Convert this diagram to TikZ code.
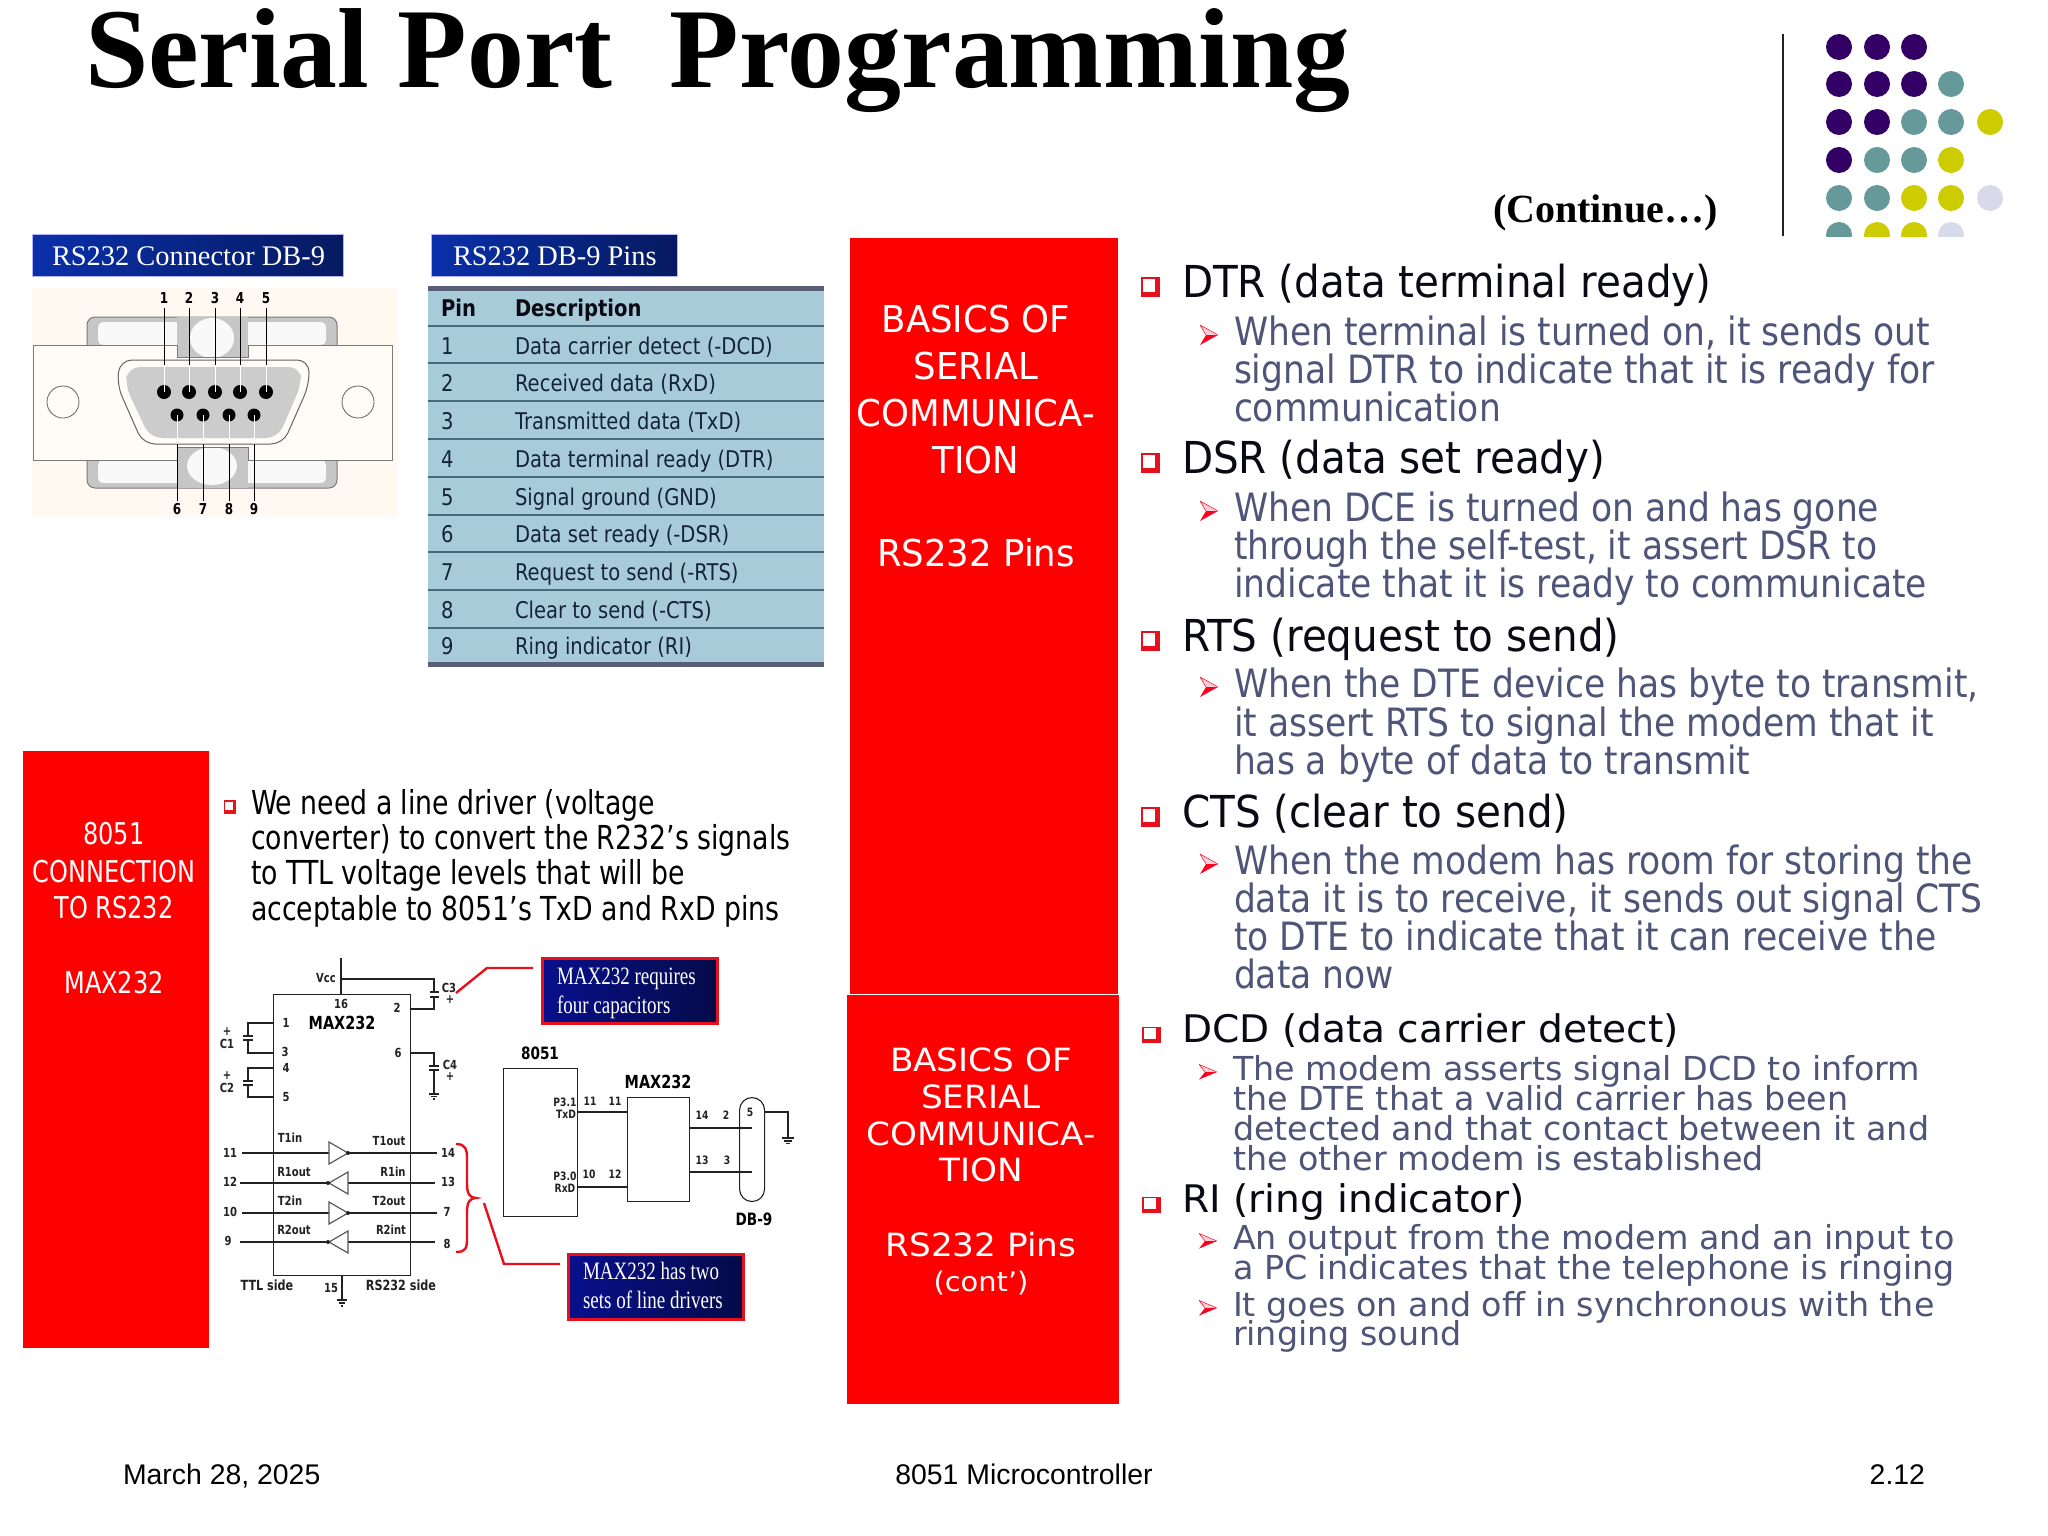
\documentclass[tikz,border=0pt]{standalone}
\usepackage{fontspec}
\setmainfont{Liberation Serif}
\newfontfamily\ar{Liberation Sans}
\newfontfamily\serc[FakeStretch=.76]{Liberation Serif}
\newfontfamily\tah[FakeStretch=.92]{DejaVu Sans}
\newfontfamily\tsub[FakeStretch=.885]{DejaVu Sans}
\newfontfamily\tabf[FakeStretch=.85]{DejaVu Sans}
\newfontfamily\tred[FakeStretch=.96]{DejaVu Sans}
\newfontfamily\tredw[FakeStretch=1.07]{DejaVu Sans}
\newfontfamily\tdcd[FakeStretch=1.01]{DejaVu Sans}
\newfontfamily\tdh[FakeStretch=1.03]{DejaVu Sans}
\newfontfamily\tahc[FakeStretch=.80]{DejaVu Sans}
\newfontfamily\tleft[FakeStretch=.81]{DejaVu Sans}
\usetikzlibrary{calc,shadings}
\newcommand{\fsz}[1]{\fontsize{#1}{#1}\selectfont}
\definecolor{redp}{HTML}{FF0000}
\definecolor{lnred}{HTML}{E8101C}
\definecolor{chevr}{HTML}{FF0022}
\definecolor{chevp}{HTML}{FFD0D8}
\definecolor{hdr}{HTML}{0A0A14}
\definecolor{subt}{HTML}{4F5578}
\definecolor{tbtxt}{HTML}{14233A}
\definecolor{tblue}{HTML}{A8CBDA}
\definecolor{tbar}{HTML}{5A5F78}
\definecolor{tline}{HTML}{476A7C}
\definecolor{dpurple}{HTML}{330066}
\definecolor{dteal}{HTML}{669999}
\definecolor{dyel}{HTML}{CCCC00}
\definecolor{dlav}{HTML}{D9D9EC}
\definecolor{ink}{HTML}{222222}
\definecolor{bana}{HTML}{0A30AA}
\definecolor{banb}{HTML}{061A60}
\definecolor{cala}{HTML}{08108C}
\definecolor{calb}{HTML}{050A48}
\tikzset{
  tl/.style={anchor=base west,inner sep=0pt,outer sep=0pt},
  tc/.style={anchor=base,inner sep=0pt,outer sep=0pt},
  tr/.style={anchor=base east,inner sep=0pt,outer sep=0pt},
  lab/.style={anchor=center,inner sep=0pt,outer sep=0pt,text=ink,font=\tahc\bfseries\fsz{12.5}},
  labb/.style={anchor=center,inner sep=0pt,outer sep=0pt,text=ink,font=\tahc\bfseries\fsz{14}},
  labbb/.style={anchor=center,inner sep=0pt,outer sep=0pt,text=black,font=\tahc\bfseries\fsz{18}},
  pan/.style={fill=redp,draw=none,anchor=north west,inner sep=0pt},
  banner/.style={anchor=north west,inner sep=0pt,draw=white!70!blue,line width=.6pt,left color=bana,right color=banb},
  callout/.style={anchor=north west,inner sep=0pt,draw=lnred,line width=3pt,left color=cala,right color=calb},
  wh/.style={text=white},
  sch/.style={draw=ink,line width=1.1pt},
  chip/.style={draw=ink,line width=1.1pt,fill=none,anchor=north west,inner sep=0pt},
  red line/.style={draw=lnred,line width=2.4pt},
  chev/.pic={\fill[chevp] (-9,-10) -- (9,0) -- (-3,0) -- cycle;
             \draw[chevr,line width=.5pt] (-9,-10) -- (9,0) (-9,-10) -- (-3,0);
             \fill[chevr] (-9,10) -- (9,0) -- (-3,0) -- cycle;},
  sq/.pic={\fill[lnred] (-9.5,-10) rectangle (9.5,10);
           \fill[white] (-7.5,-8) rectangle (5,5);},
}
\begin{document}
\begin{tikzpicture}[x=1pt,y=-1pt]
\useasboundingbox (0,0) rectangle (2048,1536);
\fill[white] (0,0) rectangle (2048,1536);
% title
\node[tl,font=\bfseries\fsz{113.8}] (title) at (85,88) {Serial Port\ \ Programming};
\node[tl,font=\bfseries\fsz{40}] (cont) at (1493,222) {(Continue…)};
% decor
\draw[line width=2.2pt,ink] (1783,34) -- (1783,236);
\begin{scope}
\clip (1820,20) rectangle (2020,236);
\foreach \x/\y/\c in {1839/47/dpurple,1877/47/dpurple,1914/47/dpurple,
 1839/84/dpurple,1877/84/dpurple,1914/84/dpurple,1951/84/dteal,
 1839/122/dpurple,1877/122/dpurple,1914/122/dteal,1951/122/dteal,1990/122/dyel,
 1839/160/dpurple,1877/160/dteal,1914/160/dteal,1951/160/dyel,
 1839/198/dteal,1877/198/dteal,1914/198/dyel,1951/198/dyel,1990/198/dlav,
 1839/235/dteal,1877/235/dyel,1914/235/dyel,1951/235/dlav}
 \fill[\c] (\x,\y) circle[radius=13];
\end{scope}
% red panels
\node[pan,minimum width=268pt,minimum height=756pt] (pan1) at (850,238) {};
\node[pan,minimum width=272pt,minimum height=409pt] (pan2) at (847,995) {};
\node[pan,minimum width=186pt,minimum height=597pt] (pan3) at (23,751) {};
\foreach \n/\y/\t in {a/332/BASICS OF,b/379/SERIAL,c/426/COMMUNICA-,d/473/TION,e/566/RS232 Pins}
  \node[tc,wh,font=\tred\fsz{37}] (pa\n) at (976,\y) {\t};
\foreach \n/\y/\t in {a/1071/BASICS OF,b/1108/SERIAL,c/1145/COMMUNICA-,d/1181/TION,e/1256/RS232 Pins}
  \node[tc,wh,font=\tredw\fsz{32}] (pb\n) at (981,\y) {\t};
\node[tc,wh,font=\tredw\fsz{27}] (pbf) at (981,1291) {(cont’)};
\foreach \n/\y/\t in {a/844/8051,b/882/CONNECTION,c/918/TO RS232,d/993/MAX232}
  \node[tc,wh,font=\tahc\fsz{30}] (pc\n) at (114,\y) {\t};
% banners
\node[banner,minimum width=311pt,minimum height=42pt] (ban1) at (32,234) {};
\node[tl,text=white,font=\fsz{28.4}] (ban1t) at (52,265) {RS232 Connector DB-9};
\node[banner,minimum width=246pt,minimum height=42pt] (ban2) at (431,234) {};
\node[tl,text=white,font=\fsz{28.4}] (ban2t) at (453,265) {RS232 DB-9 Pins};
% connector picture
\fill[orange!5!white] (32,288) rectangle (398,517);
\draw[ink!60,fill=gray!45,rounded corners=8pt,line width=1pt] (87,345) -- (87,317) -- (337,317) -- (337,345);
\fill[white!95!gray,rounded corners=5pt] (98,322) rectangle (326,345);
\draw[ink!60,fill=gray!45,rounded corners=8pt,line width=1pt] (87,460) -- (87,488) -- (337,488) -- (337,460);
\fill[white!95!gray,rounded corners=5pt] (98,460) rectangle (326,483);
\fill[gray!45] (177,317) rectangle (248,357);
\fill[white!95!gray] (212,338) ellipse[x radius=22,y radius=20];
\fill[gray!45] (177,447) rectangle (248,488);
\fill[white!95!gray] (212,466) ellipse[x radius=25,y radius=19];
\draw[ink!60,line width=1pt,fill=orange!3!white] (33,345) -- (177,345) -- (177,357) -- (248,357) -- (248,345) -- (392,345) -- (392,460) -- (248,460) -- (248,447) -- (177,447) -- (177,460) -- (33,460) -- cycle;
\draw[ink!70,line width=1pt,fill=orange!3!white,rounded corners=12pt] (117,385) -- (120,360) -- (309,360) -- (309,385) -- (283,444) -- (143,444) -- cycle;
\fill[gray!40,rounded corners=12pt] (125,385) -- (128,367) -- (301,367) -- (301,385) -- (278,438) -- (150,438) -- cycle;
\draw[ink!70,line width=.8pt] (63,402) circle[radius=16];
\draw[ink!70,line width=.8pt] (358,402) circle[radius=16];
\foreach \n/\x in {1/164,2/189,3/215,4/240,5/266}{
  \fill[black] (\x,392) circle[radius=7];
  \draw[black,line width=1pt] (\x,308) -- (\x,365);
  \draw[white,line width=1pt] (\x,365) -- (\x,392);
  \node[lab,text=black,font=\tahc\bfseries\fsz{15}] (top\n) at (\x,298) {\n};
}
\foreach \n/\x in {6/177,7/203,8/229,9/254}{
  \fill[black] (\x,415) circle[radius=6.5];
  \draw[white,line width=1pt] (\x,415) -- (\x,444);
  \draw[black,line width=1pt] (\x,444) -- (\x,501);
  \node[lab,text=black,font=\tahc\bfseries\fsz{15}] (bot\n) at (\x,509) {\n};
}
% table
\fill[tblue] (428,286) rectangle (824,666);
\fill[tbar] (428,286) rectangle (824,291);
\fill[tbar] (428,662) rectangle (824,667);
\foreach \y in {326,363,401,439,477,515,552,590,628}
  \draw[tline,line width=1.2pt] (428,\y) -- (824,\y);
\node[tl,font=\tabf\bfseries\fsz{23},text=hdr] (thp) at (441,316) {Pin};
\node[tl,font=\tabf\bfseries\fsz{23},text=hdr] (thd) at (515,316) {Description};
\foreach \i/\y/\t in {1/354/Data carrier detect (-DCD),2/391/Received data (RxD),3/429/Transmitted data (TxD),4/467/Data terminal ready (DTR),5/505/Signal ground (GND),6/542/Data set ready (-DSR),7/580/Request to send (-RTS),8/618/Clear to send (-CTS),9/654/Ring indicator (RI)}{
  \node[tl,font=\tabf\fsz{23},text=tbtxt] (tp\i) at (441,\y) {\i};
  \node[tl,font=\tabf\fsz{23},text=tbtxt] (td\i) at (515,\y) {\t};
}
% left text
\pic[scale=.68] (lb) at (230,807) {sq};
\foreach \n/\y/\t in {a/814/We need a line driver (voltage,b/849/converter) to convert the R232’s signals,c/884/to TTL voltage levels that will be,d/920/acceptable to 8051’s TxD and RxD pins}
  \node[tl,font=\tleft\fsz{33},text=black] (lt\n) at (251,\y) {\t};
% schematic 1
\node[chip,minimum width=137pt,minimum height=281pt] (mx) at (273,994) {};
\draw[sch] (341,958) -- (341,994);
\draw[sch] (341,979) -- (434,979) -- (434,992);
\draw[sch] (430,992) -- (439,992) (430,997) -- (439,997);
\draw[sch] (434,997) -- (434,1009) -- (410,1009);
\draw[sch] (273,1023) -- (248,1023) -- (248,1036) (243,1036) -- (253,1036) (243,1040) -- (253,1040) (248,1040) -- (248,1053) -- (273,1053);
\draw[sch] (273,1068) -- (248,1068) -- (248,1081) (243,1081) -- (253,1081) (243,1085) -- (253,1085) (248,1085) -- (248,1097) -- (273,1097);
\draw[sch] (410,1053) -- (434,1053) -- (434,1066) (429,1066) -- (439,1066) (429,1070) -- (439,1070) (434,1070) -- (434,1093);
\draw[sch] (429,1094) -- (439,1094) (431,1096.5) -- (437,1096.5) (433,1099) -- (435,1099);
\draw[sch] (342,1275) -- (342,1300);
\draw[sch] (337,1300) -- (347,1300) (339,1303) -- (345,1303) (341,1306) -- (343,1306);
\foreach \n/\y in {a/1153,c/1213}{
  \draw[sch] (242,\y) -- (329,\y) (348,\y) -- (437,\y);
  \draw[draw=gray!70!black,line width=1.2pt] (329,\y-11) -- (348,\y) -- (329,\y+11) -- cycle;
  \fill[ink] (348,\y) circle[radius=2];
}
\foreach \n/\y in {b/1183,d/1242}{
  \draw[sch] (240,\y) -- (328,\y) (348,\y) -- (435,\y);
  \draw[draw=gray!70!black,line width=1.2pt] (348,\y-11) -- (329,\y) -- (348,\y+11) -- cycle;
  \fill[ink] (328,\y) circle[radius=2];
}
\foreach \n/\x/\y/\t in {a/326/978/Vcc,b/449/988/C3,c/450/1000/+,d/341/1004/16,e/397/1008/2,f/286/1023/1,g/285/1052/3,h/286/1068/4,i/286/1097/5,j/398/1053/6,k/227/1032/+,l/227/1044/C1,m/227/1076/+,n/227/1088/C2,o/450/1065/C4,p/450/1077/+,q/230/1153/11,r/448/1153/14,s/230/1182/12,t/448/1182/13,u/230/1212/10,v/447/1212/7,w/228/1241/9,x/447/1244/8,y/331/1288/15}
  \node[lab] (sl\n) at (\x,\y) {\t};
\foreach \n/\x/\y/\t in {a/290/1138/T1in,b/294/1172/R1out,c/290/1201/T2in,d/294/1230/R2out,e/389/1141/T1out,f/393/1172/R1in,g/389/1201/T2out,h/391/1230/R2int}
  \node[lab] (sd\n) at (\x,\y) {\t};
\node[labb] (sttl) at (267,1285) {TTL side};
\node[labb] (srs) at (401,1285) {RS232 side};
\node[labbb] (smx) at (342,1023) {MAX232};
% red brace and callouts
\node[callout,minimum width=175pt,minimum height=65pt] (cal1) at (541,957) {};
\node[tl,text=white,font=\serc\fsz{25}] (cal1a) at (557,984) {MAX232 requires};
\node[tl,text=white,font=\serc\fsz{25}] (cal1b) at (557,1013) {four capacitors};
\node[callout,minimum width=175pt,minimum height=65pt] (cal2) at (567,1253) {};
\node[tl,text=white,font=\serc\fsz{25}] (cal2a) at (583,1279) {MAX232 has two};
\node[tl,text=white,font=\serc\fsz{25}] (cal2b) at (583,1308) {sets of line drivers};
\coordinate (c3tip) at (456,993);
\coordinate (bracetip) at (484,1203);
\draw[red line] (c3tip) -- (487,968) -- (533,968);
\draw[red line] (bracetip) -- (504,1264) -- (560,1264);
\draw[red line] (456,1144) .. controls (466,1144) and (467,1150) .. (467,1158) -- (467,1184) .. controls (467,1194) and (470,1198) .. (476,1198) .. controls (470,1198) and (467,1202) .. (467,1212) -- (467,1238) .. controls (467,1248) and (466,1252) .. (456,1252);
% schematic 2
\node[chip,minimum width=74pt,minimum height=148pt] (b8051) at (503,1068) {};
\node[chip,minimum width=62pt,minimum height=104pt] (bmx) at (627,1097) {};
\node[chip,rounded corners=12.5pt,minimum width=25pt,minimum height=104pt] (bdb) at (739,1097) {};
\node[labbb,font=\tahc\bfseries\fsz{17}] (l8051) at (540,1053) {8051};
\node[labbb] (lmx) at (658,1082) {MAX232};
\node[labbb,font=\tahc\bfseries\fsz{17}] (ldb) at (754,1219) {DB-9};
\coordinate (gnd2) at (788,1138);
\draw[sch] (b8051.east |- 0,1112) -- (bmx.west |- 0,1112);
\draw[sch] (b8051.east |- 0,1187) -- (bmx.west |- 0,1187);
\draw[sch] (bmx.east |- 0,1128) -- (752,1128);
\draw[sch] (bmx.east |- 0,1172) -- (752,1172);
\draw[sch] (bdb.east |- 0,1112) -- (788,1112) -- (gnd2);
\draw[sch] (782,1138) -- (794,1138) (784,1141) -- (792,1141) (786,1143.5) -- (790,1143.5);
\foreach \n/\x/\y/\t in {a/565/1102/P3.1,b/566/1114/TxD,c/565/1176/P3.0,d/565/1188/RxD,e/590/1101/11,f/615/1101/11,g/589/1174/10,h/615/1174/12,i/702/1115/14,j/726/1115/2,k/702/1160/13,l/727/1160/3,m/750/1112/5}
  \node[lab,font=\tahc\bfseries\fsz{11.5}] (tl\n) at (\x,\y) {\t};
% right text
\foreach \n/\y/\t in {a/297/DTR (data terminal ready),b/473/DSR (data set ready),c/651/RTS (request to send),d/827/CTS (clear to send)}
  \node[tl,font=\tah\fsz{44},text=hdr] (h\n) at (1182,\y) {\t};
\foreach \n/\y in {a/297,b/473,c/651,d/827}
  \pic (q\n) at (1150,\y-10) {sq};
\foreach \n/\y/\t in {a1/345/{When terminal is turned on, it sends out},a2/383/signal DTR to indicate that it is ready for,a3/421/communication,
 b1/521/When DCE is turned on and has gone,b2/559/{through the self-test, it assert DSR to},b3/597/indicate that it is ready to communicate,
 c1/697/{When the DTE device has byte to transmit,},c2/736/it assert RTS to signal the modem that it,c3/774/has a byte of data to transmit,
 d1/874/When the modem has room for storing the,d2/912/{data it is to receive, it sends out signal CTS},d3/950/to DTE to indicate that it can receive the,d4/988/data now}
  \node[tl,font=\tsub\fsz{39},text=subt] (s\n) at (1234,\y) {\t};
\foreach \n/\y in {a/345,b/521,c/697,d/874}
  \pic (ch\n) at (1209,\y-10) {chev};
\foreach \n/\y/\t in {e/1042/DCD (data carrier detect),f/1212/RI (ring indicator)}
  \node[tl,font=\tdh\fsz{38},text=hdr] (h\n) at (1182,\y) {\t};
\foreach \n/\y in {e/1042,f/1212}
  \pic[yscale=.82] (q\n) at (1151,\y-7) {sq};
\foreach \n/\y/\t in {e1/1080/The modem asserts signal DCD to inform,e2/1110/the DTE that a valid carrier has been,e3/1140/detected and that contact between it and,e4/1170/the other modem is established,
 f1/1249/An output from the modem and an input to,f2/1279/a PC indicates that the telephone is ringing,f3/1316/It goes on and off in synchronous with the,f4/1345/ringing sound}
  \node[tl,font=\tdcd\fsz{33},text=subt] (s\n) at (1233,\y) {\t};
\foreach \n/\y in {e/1080,f/1249,g/1316}
  \pic[yscale=.76] (ch\n) at (1208,\y-8) {chev};
% footer
\node[tl,font=\ar\fsz{28.4}] (fa) at (123,1484) {March 28, 2025};
\node[tc,font=\ar\fsz{28.4}] (fb) at (1024,1484) {8051 Microcontroller};
\node[tr,font=\ar\fsz{28.4}] (fc) at (1925,1484) {2.12};
\end{tikzpicture}
\end{document}
